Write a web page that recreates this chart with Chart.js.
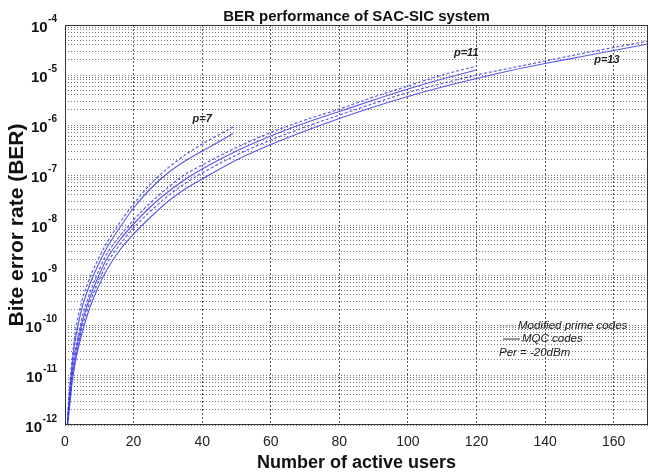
<!DOCTYPE html>
<html>
<head>
<meta charset="utf-8">
<script src="https://cdn.jsdelivr.net/npm/chart.js@4.4.1/dist/chart.umd.min.js"></script>
<style>
  html, body { margin: 0; padding: 0; background: #fff; }
  #wrap { width: 650px; height: 475px; }
</style>
</head>
<body>
<div id="wrap"><canvas id="berChart"></canvas></div>
<script>
// Datos (BER en log10)
const usersP7 = [0.7, 1, 2, 3, 5, 7, 9, 12, 16, 20, 25, 30, 35, 40, 45, 49];
const p7Prime = [-12, -11.55, -10.75, -10.15, -9.5, -9.1, -8.78, -8.38, -7.95, -7.58, -7.18, -6.86, -6.6, -6.38, -6.19, -6.04];
const p7Mqc   = [-12, -11.65, -10.85, -10.3, -9.65, -9.23, -8.9, -8.48, -8.05, -7.66, -7.27, -6.96, -6.72, -6.52, -6.33, -6.17];

const usersP11 = [0.7, 1, 2, 3, 5, 7, 9, 12, 16, 20, 25, 30, 35, 40, 50, 60, 70, 80, 90, 100, 110, 120];
const p11Prime = [-12, -11.7, -10.95, -10.5, -9.85, -9.4, -9.05, -8.6, -8.22, -7.9, -7.55, -7.25, -6.99, -6.8, -6.45, -6.15, -5.9, -5.68, -5.44, -5.22, -5.0, -4.82];
const p11Mqc   = [-12, -11.75, -11.05, -10.6, -9.95, -9.5, -9.15, -8.7, -8.3, -7.98, -7.63, -7.34, -7.09, -6.88, -6.52, -6.22, -5.96, -5.73, -5.5, -5.28, -5.08, -4.9];

const usersP13 = [0.7, 1, 2, 3, 5, 7, 9, 12, 16, 20, 25, 30, 35, 40, 50, 60, 70, 80, 90, 100, 110, 120, 130, 140, 150, 160, 170];
const p13Prime = [-12, -11.8, -11.1, -10.68, -10.05, -9.6, -9.25, -8.8, -8.39, -8.06, -7.72, -7.42, -7.17, -6.96, -6.6, -6.3, -6.04, -5.8, -5.57, -5.35, -5.17, -5.0, -4.86, -4.72, -4.58, -4.45, -4.32];
const p13Mqc   = [-12, -11.85, -11.2, -10.75, -10.15, -9.7, -9.35, -8.92, -8.5, -8.18, -7.84, -7.53, -7.28, -7.08, -6.7, -6.39, -6.12, -5.87, -5.64, -5.43, -5.24, -5.07, -4.91, -4.77, -4.64, -4.51, -4.38];

// Ejes
const xTicks = [0, 20, 40, 60, 80, 100, 120, 140, 160];
const yDecades = [-12, -11, -10, -9, -8, -7, -6, -5, -4];
const yMinor = [2, 3, 4, 5, 6, 7, 8, 9];

// Etiquetas de curvas [texto, usuarios, log10 BER]
const curveLabels = [['p=7', 40, -5.88], ['p=11', 117, -4.55], ['p=13', 158, -4.7]];
const legendLines = ['Modified prime codes', 'MQC codes', 'Per = -20dBm'];

const FONT = '"Liberation Sans", Arial, sans-serif';
const BLUE = 'rgba(60, 60, 230, 0.85)';

const toPoints = (xs, ys) => xs.map((x, i) => ({ x: x, y: Math.pow(10, ys[i]) }));

const curve = (xs, ys, dashed) => ({
    data: toPoints(xs, ys),
    borderColor: BLUE,
    borderWidth: 1.15,
    borderDash: dashed ? [3, 2] : [],
    pointRadius: 0,
    fill: false,
    cubicInterpolationMode: 'monotone'
});

const overlay = {
    id: 'overlay',
    afterDraw(chart) {
        const ctx = chart.ctx;
        const a = chart.chartArea;
        const xs = chart.scales.x, ys = chart.scales.y;
        ctx.save();

        // marco
        ctx.strokeStyle = '#333';
        ctx.lineWidth = 1;
        ctx.setLineDash([]);
        ctx.strokeRect(a.left + 0.5, a.top + 0.5, a.right - a.left - 1, a.bottom - a.top - 1);

        // etiquetas del eje y: 10^n
        ctx.fillStyle = '#111';
        yDecades.forEach(e => {
            const y = ys.getPixelForValue(Math.pow(10, e));
            const sup = String(e);
            ctx.font = 'bold 10px ' + FONT;
            const supW = ctx.measureText(sup).width;
            const right = 57;
            ctx.textAlign = 'right';
            ctx.textBaseline = 'middle';
            ctx.fillText(sup, right, y - 6);
            ctx.font = 'bold 15px ' + FONT;
            ctx.fillText('10', right - supW - 0.5, y + 3);
        });

        // titulo
        ctx.textAlign = 'center';
        ctx.textBaseline = 'alphabetic';
        ctx.font = 'bold 15px ' + FONT;
        ctx.fillText('BER performance of SAC-SIC system', (a.left + a.right) / 2, 21);

        // titulo eje x
        ctx.font = 'bold 18px ' + FONT;
        ctx.textBaseline = 'middle';
        ctx.fillText('Number of active users', (a.left + a.right) / 2, 463);

        // titulo eje y
        ctx.save();
        ctx.translate(17, (a.top + a.bottom) / 2);
        ctx.rotate(-Math.PI / 2);
        ctx.font = 'bold 21px ' + FONT;
        ctx.fillText('Bite error rate (BER)', 0, 0);
        ctx.restore();

        // etiquetas p
        ctx.font = 'italic bold 11px ' + FONT;
        ctx.fillStyle = '#222';
        curveLabels.forEach(([t, u, e]) => {
            ctx.fillText(t, xs.getPixelForValue(u), ys.getPixelForValue(Math.pow(10, e)));
        });

        // leyenda
        ctx.textAlign = 'left';
        ctx.font = 'italic 11.5px ' + FONT;
        ctx.fillStyle = '#222';
        const lx = 499, ly = 326;
        ctx.strokeStyle = '#888';
        ctx.lineWidth = 1;
        ctx.setLineDash([1, 1]);
        ctx.beginPath(); ctx.moveTo(lx, ly); ctx.lineTo(lx + 17, ly); ctx.stroke();
        ctx.fillText(legendLines[0], lx + 19, ly);
        ctx.strokeStyle = '#333';
        ctx.setLineDash([]);
        ctx.beginPath(); ctx.moveTo(lx + 4, ly + 13); ctx.lineTo(lx + 21, ly + 13); ctx.stroke();
        ctx.fillText(legendLines[1], lx + 23, ly + 13);
        ctx.fillText(legendLines[2], lx, ly + 27);

        ctx.restore();
    }
};

new Chart(document.getElementById('berChart'), {
    type: 'line',
    data: {
        datasets: [
            curve(usersP7, p7Prime, true),
            curve(usersP7, p7Mqc, false),
            curve(usersP11, p11Prime, true),
            curve(usersP11, p11Mqc, false),
            curve(usersP13, p13Prime, true),
            curve(usersP13, p13Mqc, false)
        ]
    },
    options: {
        responsive: true,
        maintainAspectRatio: false,
        animation: false,
        layout: { padding: { top: 25, right: 2, left: 0, bottom: 0 } },
        plugins: {
            legend: { display: false },
            title: { display: false },
            tooltip: { enabled: false }
        },
        scales: {
            x: {
                type: 'linear',
                min: 0,
                max: 170,
                afterBuildTicks: s => { s.ticks = xTicks.map(v => ({ value: v })); },
                afterFit: s => { s.height = 50; },
                ticks: {
                    font: { size: 14, family: FONT },
                    color: '#222',
                    padding: 9,
                    maxRotation: 0
                },
                grid: { color: '#444', lineWidth: 0.9, drawTicks: false },
                border: { display: false, dash: [2, 2] }
            },
            y: {
                type: 'logarithmic',
                min: 1e-12,
                max: 1e-4,
                afterBuildTicks: s => {
                    const t = [];
                    yDecades.forEach(e => {
                        t.push({ value: Math.pow(10, e) });
                        if (e < -4) yMinor.forEach(m => t.push({ value: m * Math.pow(10, e) }));
                    });
                    s.ticks = t;
                },
                afterFit: s => { s.width = 65; },
                ticks: { display: false },
                grid: { color: '#555', lineWidth: 0.8, drawTicks: false },
                border: { display: false, dash: [1, 2] }
            }
        }
    },
    plugins: [overlay]
});
</script>
</body>
</html>
